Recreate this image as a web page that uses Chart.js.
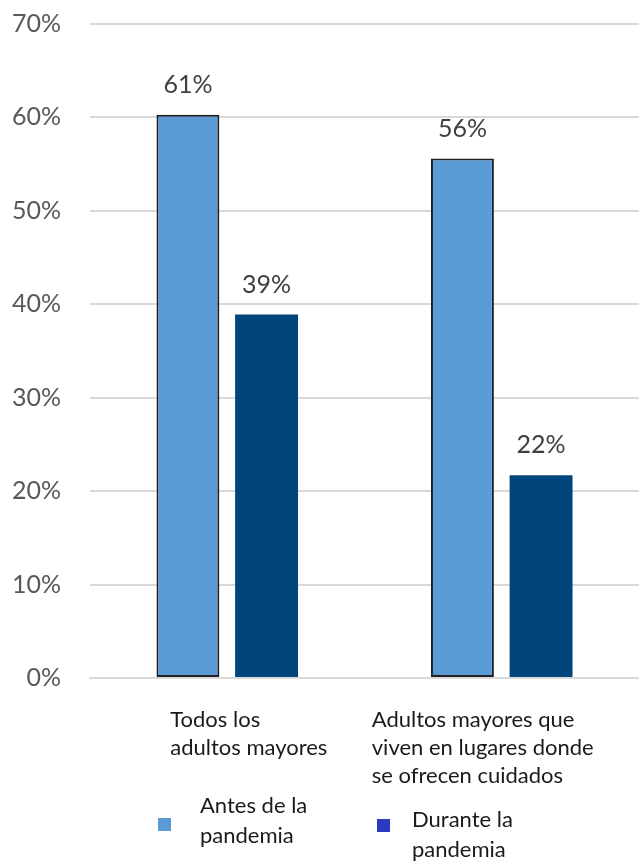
<!DOCTYPE html>
<html>
<head>
<meta charset="utf-8">
<script src="https://cdn.jsdelivr.net/npm/chart.js@4/dist/chart.umd.min.js"></script>
<style>
  html, body { margin: 0; padding: 0; background: #ffffff; }
  #wrap { width: 639px; height: 863px; position: relative; }
</style>
</head>
<body>
<div id="wrap"><canvas id="c" width="639" height="863"></canvas></div>
<script>
// ---- Data ----
const categories = [
  ["Todos los", "adultos mayores"],
  ["Adultos mayores que", "viven en lugares donde", "se ofrecen cuidados"]
];
const seriesNames = [["Antes de la", "pandemia"], ["Durante la", "pandemia"]];
const antesValues = [60.3, 55.6];
const duranteValues = [38.9, 21.7];
const antesLabels = ["61%", "56%"];
const duranteLabels = ["39%", "22%"];
const yTicks = [0, 10, 20, 30, 40, 50, 60, 70];

// ---- Styles ----
const FONT = "Lato, 'Open Sans', sans-serif";
const antesColor = "#5B9BD5";
const duranteColor = "#00457C";
const legendColors = ["#5B9BD5", "#2B3BC0"];
const catOffsets = [-57, -130];

const labelPlugin = {
  id: "customText",
  afterDraw(chart) {
    const ctx = chart.ctx;
    const xs = chart.scales.x;
    const area = chart.chartArea;
    ctx.save();
    // data labels
    ctx.font = "25px " + FONT;
    ctx.fillStyle = "#404040";
    ctx.textAlign = "center";
    ctx.textBaseline = "alphabetic";
    const lbls = [antesLabels, duranteLabels];
    chart.data.datasets.forEach((ds, di) => {
      const meta = chart.getDatasetMeta(di);
      meta.data.forEach((bar, i) => {
        ctx.fillText(lbls[di][i], bar.x, bar.y - 22);
      });
    });
    // category labels
    ctx.font = "22px " + FONT;
    ctx.fillStyle = "#1a1a1a";
    ctx.textAlign = "left";
    categories.forEach((lines, i) => {
      const x = xs.getPixelForValue(i) + catOffsets[i];
      lines.forEach((ln, j) => {
        ctx.fillText(ln, x, area.bottom + 49 + j * 28);
      });
    });
    // legend
    const legendPos = [
      { sx: 158, sy: 818, tx: 200, ty: 813 },
      { sx: 377, sy: 819, tx: 412, ty: 827 }
    ];
    seriesNames.forEach((lines, i) => {
      const p = legendPos[i];
      ctx.fillStyle = legendColors[i];
      ctx.fillRect(p.sx, p.sy, 13, 13);
      ctx.fillStyle = "#1a1a1a";
      lines.forEach((ln, j) => ctx.fillText(ln, p.tx, p.ty + j * 30));
    });
    ctx.restore();
  }
};

new Chart(document.getElementById("c"), {
  type: "bar",
  data: {
    labels: categories.map(c => c.join(" ")),
    datasets: [
      {
        label: seriesNames[0].join(" "),
        data: antesValues,
        backgroundColor: antesColor,
        borderColor: "#1f1f1f",
        borderWidth: 2,
        borderSkipped: false,
        categoryPercentage: 0.573,
        barPercentage: 0.8
      },
      {
        label: seriesNames[1].join(" "),
        data: duranteValues,
        backgroundColor: duranteColor,
        borderWidth: 0,
        categoryPercentage: 0.573,
        barPercentage: 0.8
      }
    ]
  },
  options: {
    responsive: false,
    animation: false,
    devicePixelRatio: 1,
    layout: { padding: { top: 24, right: 0, bottom: 177, left: 0 } },
    plugins: { legend: { display: false }, tooltip: { enabled: false } },
    scales: {
      x: {
        grid: { display: false },
        ticks: { display: false },
        border: { display: true, color: "#d9d9d9", width: 2 }
      },
      y: {
        min: 0,
        max: 70,
        afterBuildTicks(scale) { scale.ticks = yTicks.map(v => ({ value: v })); },
        afterFit(scale) { scale.width = 90; scale.paddingTop = 0; scale.paddingBottom = 0; },
        grid: { color: "#d9d9d9", lineWidth: 2, drawTicks: false },
        border: { display: false },
        ticks: {
          padding: 29,
          color: "#595959",
          font: { family: FONT, size: 25 },
          callback: v => v + "%"
        }
      }
    }
  },
  plugins: [labelPlugin]
});
</script>
</body>
</html>
